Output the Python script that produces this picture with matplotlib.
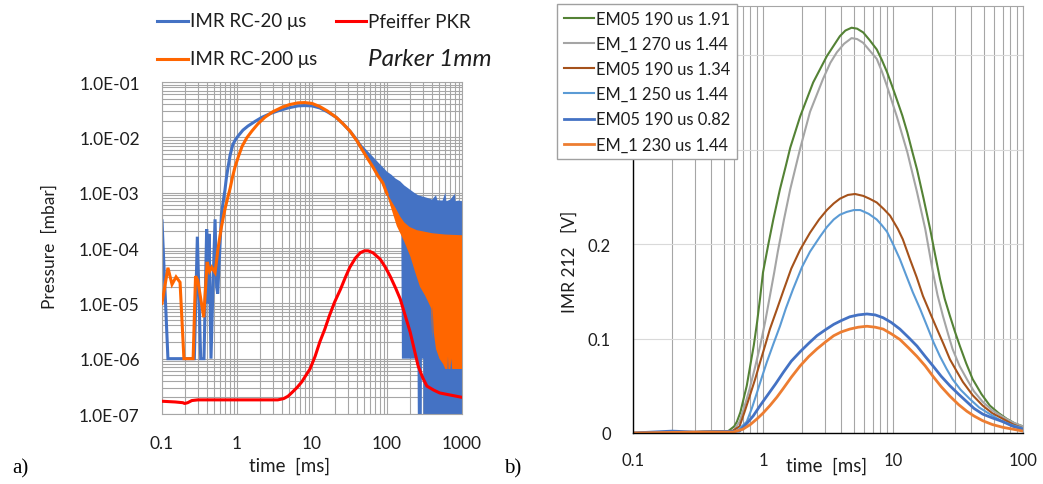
import numpy as np
import matplotlib
matplotlib.use("Agg")
import matplotlib.pyplot as plt
from matplotlib.lines import Line2D
from matplotlib.ticker import LogLocator, FuncFormatter, NullFormatter, FixedLocator

plt.rcParams['font.family'] = ['Lato', 'DejaVu Sans']

# ---- panel a: pressure traces (time in ms, pressure in mbar) ----
imr20_t = [0.1, 0.12, 0.27, 0.296, 0.328, 0.363, 0.394, 0.41, 0.424, 0.45, 0.478, 0.51,
           0.535, 0.553, 0.62, 0.66, 0.69, 0.72, 0.76, 0.81, 0.88, 0.95, 1.03, 1.2, 1.4,
           1.75, 2.15, 2.8, 3.5, 4.8, 6.5, 8, 10, 12.7, 16, 21, 26, 32, 40, 48, 56, 65,
           76, 88, 100]
imr20_p = [3.1e-4, 1e-6, 1e-6, 1.6e-4, 1e-6, 1e-6, 2.2e-4, 1e-5, 1.8e-4, 1e-6, 2e-5, 3.3e-4,
           2e-5, 1.5e-5, 4e-4, 7.5e-4, 1.1e-3, 1.8e-3, 2.9e-3, 4.8e-3, 7.4e-3, 9e-3, 1.05e-2,
           1.35e-2, 1.6e-2, 1.95e-2, 2.3e-2, 2.7e-2, 3e-2, 3.4e-2, 3.7e-2, 3.75e-2, 3.7e-2,
           3.4e-2, 2.9e-2, 2.3e-2, 1.75e-2, 1.3e-2, 8.8e-3, 5.8e-3, 4.2e-3, 3e-3, 2.1e-3,
           1.6e-3, 1.2e-3]

# noisy tail of the 20 us trace: upper / lower envelopes
imr20_hi_t = [40, 50, 60, 70, 80, 90, 100, 115, 130, 150, 170, 200, 230, 260, 300, 350,
              400, 450, 470, 550, 600, 620, 700, 800, 820, 900, 1000]
imr20_hi_p = [9e-3, 6.5e-3, 5e-3, 4e-3, 3.3e-3, 2.8e-3, 2.4e-3, 2.1e-3, 1.8e-3, 1.6e-3,
              1.35e-3, 1.15e-3, 1e-3, 9e-4, 8.5e-4, 8e-4, 7.5e-4, 9e-4, 7.3e-4, 7.2e-4,
              1e-3, 7e-4, 7.5e-4, 9.5e-4, 7e-4, 7.2e-4, 7e-4]
imr20_lo_t = [40, 50, 70, 100, 130, 155, 158, 255, 260, 290, 292, 305, 307, 1000]
imr20_lo_p = [7.5e-3, 5e-3, 2.6e-3, 9e-4, 5e-4, 3e-4, 1e-6, 1e-6, 1e-8, 1e-8, 1e-6, 1e-6,
              1e-8, 1e-8]

imr200_t = [0.1, 0.12, 0.136, 0.154, 0.174, 0.196, 0.26, 0.28, 0.30, 0.36, 0.40, 0.43,
            0.46, 0.51, 0.56, 0.62, 0.69, 0.75, 0.81, 0.87, 0.94, 1.05, 1.17, 1.35, 1.58,
            1.9, 2.35, 3, 4, 5, 6.5, 8, 10, 12.7, 16, 21, 26, 32, 40, 48, 56, 65, 76, 88,
            100]
imr200_p = [1e-5, 4.4e-5, 2.2e-5, 3e-5, 2.4e-5, 1e-6, 1e-6, 3.1e-5, 2.6e-5, 5.6e-6, 5.6e-5,
            3.8e-5, 4.5e-5, 3.6e-5, 1e-4, 2.4e-4, 5e-4, 8e-4, 1.2e-3, 1.9e-3, 2.9e-3, 4.6e-3,
            6.9e-3, 9.8e-3, 1.3e-2, 1.75e-2, 2.3e-2, 2.9e-2, 3.5e-2, 3.9e-2, 4.2e-2, 4.25e-2,
            4.1e-2, 3.6e-2, 3e-2, 2.3e-2, 1.75e-2, 1.3e-2, 8.5e-3, 5.6e-3, 4e-3, 2.9e-3,
            2e-3, 1.5e-3, 9.5e-4]

imr200_hi_t = [100, 115, 128, 150, 170, 200, 250, 300, 400, 600, 1000]
imr200_hi_p = [1e-3, 7e-4, 5.5e-4, 3.7e-4, 2.9e-4, 2.4e-4, 2.1e-4, 2e-4, 1.85e-4, 1.75e-4, 1.7e-4]
imr200_lo_t = [100, 115, 135, 170, 205, 240, 275, 320, 350, 390, 400, 405, 420, 450, 500,
               560, 600, 640, 650, 660, 700, 720, 740, 1000]
imr200_lo_p = [9e-4, 5e-4, 2.5e-4, 1.3e-4, 7e-5, 3.5e-5, 2e-5, 1.4e-5, 1.1e-5, 8e-6, 2.2e-6,
               9e-6, 3e-6, 1.5e-6, 1e-6, 8e-7, 6.5e-7, 6.5e-7, 1.1e-6, 6.5e-7, 6.5e-7, 1e-6,
               6.5e-7, 6.5e-7]

pkr_t = [0.1, 0.15, 0.19, 0.2, 0.22, 0.25, 0.3, 1, 3.5, 4.2, 4.8, 5.5, 6.3, 7.3, 8.3, 9.4,
         11, 12.7, 14.8, 17, 20, 24, 28, 32, 38, 44, 50, 56, 65, 81, 95, 110, 130, 150,
         175, 204, 230, 260, 300, 340, 420, 505, 700, 1000]
pkr_p = [1.7e-7, 1.65e-7, 1.6e-7, 1.55e-7, 1.6e-7, 1.75e-7, 1.8e-7, 1.8e-7, 1.8e-7, 1.9e-7,
         2.1e-7, 2.5e-7, 3e-7, 3.8e-7, 5e-7, 6.5e-7, 1.1e-6, 2e-6, 3.4e-6, 5.9e-6, 1.05e-5,
         1.8e-5, 3e-5, 4.5e-5, 6.6e-5, 8.2e-5, 8.9e-5, 8.9e-5, 8.2e-5, 6.3e-5, 4.5e-5,
         3.1e-5, 1.9e-5, 1.2e-5, 6e-6, 3e-6, 1.5e-6, 7.4e-7, 4.5e-7, 3.2e-7, 2.7e-7, 2.4e-7,
         2.2e-7, 2e-7]

# ---- panel b: IMR 212 signal (time in ms, volts) ----
em_labels = ["EM05 190 us 1.91", "EM_1 270 us 1.44", "EM05 190 us 1.34",
             "EM_1 250 us 1.44", "EM05 190 us 0.82", "EM_1 230 us 1.44"]
em_colors = ['#548235', '#A5A5A5', '#A5521B', '#5B9BD5', '#4472C4', '#ED7D31']

em05_191_t = [0.1, 0.3, 0.54, 0.6, 0.63, 0.67, 0.70, 0.75, 0.79, 0.85, 0.90, 0.95, 1.0,
              1.1, 1.2, 1.35, 1.5, 1.62, 1.93, 2.43, 3.1, 3.9, 4.3, 4.8, 5.3, 5.9, 6.6, 7.5,
              8.2, 9.0, 9.8, 10.7, 11.8, 12.9, 14, 15.3, 17.2, 19.3, 21, 23, 25, 27.4, 30,
              32.7, 36.5, 41, 48, 55.6, 65, 75, 87, 100]
em05_191_v = [0.0, 0.001, 0.002, 0.007, 0.012, 0.022, 0.033, 0.05, 0.068, 0.093, 0.117,
              0.143, 0.170, 0.200, 0.226, 0.258, 0.283, 0.302, 0.335, 0.371, 0.399, 0.420,
              0.426, 0.429, 0.428, 0.424, 0.416, 0.406, 0.395, 0.382, 0.368, 0.353, 0.336,
              0.318, 0.299, 0.279, 0.248, 0.216, 0.19, 0.163, 0.142, 0.124, 0.107, 0.092,
              0.074, 0.057, 0.041, 0.029, 0.021, 0.015, 0.010, 0.007]

em1_270_t = [0.1, 0.3, 0.59, 0.66, 0.72, 0.79, 0.87, 0.95, 1.04, 1.13, 1.22, 1.30, 1.45,
             1.62, 1.93, 2.3, 2.9, 3.3, 3.7, 4.2, 4.8, 5.3, 5.9, 6.6, 7.5, 8.2, 9.0, 10.7,
             12.9, 15.3, 17.7, 20.3, 22, 24.2, 26.5, 28.7, 32.5, 37, 42, 49, 58, 70, 84, 100]
em1_270_v = [0.0, 0.001, 0.002, 0.012, 0.028, 0.047, 0.07, 0.092, 0.118, 0.145, 0.170,
             0.192, 0.226, 0.258, 0.301, 0.340, 0.375, 0.392, 0.403, 0.412, 0.418, 0.417,
             0.413, 0.405, 0.396, 0.383, 0.367, 0.335, 0.297, 0.255, 0.216, 0.170, 0.146,
             0.124, 0.105, 0.089, 0.071, 0.057, 0.044, 0.033, 0.024, 0.017, 0.011, 0.007]

em05_134_t = [0.1, 0.3, 0.58, 0.66, 0.72, 0.79, 0.87, 0.95, 1.04, 1.13, 1.28, 1.43, 1.65,
              1.93, 2.3, 2.7, 3.1, 3.5, 3.9, 4.5, 5.1, 5.9, 6.6, 7.5, 8.5, 9.5, 10.9, 11.9,
              13.5, 15.2, 17, 19.3, 21.8, 24.5, 27.4, 31, 34.5, 41, 49, 58, 70, 84, 100]
em05_134_v = [0.0, 0.001, 0.002, 0.007, 0.022, 0.039, 0.057, 0.075, 0.093, 0.110, 0.131,
              0.150, 0.174, 0.194, 0.212, 0.226, 0.236, 0.243, 0.248, 0.252, 0.253, 0.251,
              0.248, 0.244, 0.237, 0.230, 0.216, 0.205, 0.184, 0.165, 0.145, 0.127, 0.110,
              0.094, 0.078, 0.065, 0.054, 0.040, 0.029, 0.021, 0.015, 0.009, 0.005]

em1_250_t = [0.1, 0.3, 0.63, 0.75, 0.82, 0.9, 0.98, 1.07, 1.2, 1.35, 1.5, 1.7, 2.0, 2.3,
             2.75, 3.1, 3.5, 3.9, 4.4, 5.0, 5.6, 6.5, 7.5, 8.2, 9.0, 10, 11.3, 12.7, 14.2,
             16.2, 18.3, 20.5, 23, 25.8, 28.7, 33, 39, 46, 55.6, 70, 84, 100]
em1_250_v = [0.0, 0.001, 0.002, 0.012, 0.026, 0.043, 0.059, 0.075, 0.094, 0.113, 0.132,
             0.152, 0.176, 0.192, 0.208, 0.218, 0.226, 0.231, 0.234, 0.236, 0.236, 0.232,
             0.226, 0.220, 0.213, 0.200, 0.184, 0.166, 0.149, 0.131, 0.113, 0.096, 0.081,
             0.068, 0.057, 0.046, 0.036, 0.027, 0.020, 0.012, 0.008, 0.005]

em05_082_t = [0.1, 0.2, 0.3, 0.66, 0.75, 0.84, 0.95, 1.07, 1.25, 1.43, 1.65, 1.93, 2.25,
              2.6, 3.0, 3.5, 4.0, 4.65, 5.4, 6.3, 7.3, 8.4, 9.7, 11.3, 13.2, 15.3, 17.7,
              20.3, 23.5, 27.4, 32, 37, 42, 49, 58, 70, 84, 100]
em05_082_v = [0.0, 0.002, 0.001, 0.002, 0.010, 0.018, 0.029, 0.039, 0.052, 0.064, 0.076,
              0.086, 0.095, 0.103, 0.109, 0.115, 0.119, 0.123, 0.125, 0.126, 0.125, 0.122,
              0.117, 0.110, 0.101, 0.092, 0.081, 0.071, 0.060, 0.050, 0.041, 0.033, 0.026,
              0.020, 0.016, 0.012, 0.007, 0.004]

em1_230_t = [0.1, 0.3, 0.59, 0.70, 0.8, 0.9, 1.0, 1.13, 1.28, 1.43, 1.65, 1.93, 2.25, 2.6,
             3.0, 3.5, 4.0, 4.65, 5.4, 6.3, 7.3, 8.4, 9.7, 11.3, 13.2, 15.3, 17.7, 20.3,
             23.5, 27.4, 32, 37, 42, 49, 58, 70, 84, 100]
em1_230_v = [0.0, 0.001, 0.001, 0.004, 0.009, 0.015, 0.021, 0.029, 0.038, 0.047, 0.059,
             0.071, 0.081, 0.089, 0.096, 0.103, 0.107, 0.110, 0.112, 0.113, 0.112, 0.110,
             0.105, 0.099, 0.090, 0.081, 0.071, 0.060, 0.049, 0.039, 0.030, 0.023, 0.018,
             0.013, 0.009, 0.006, 0.004, 0.002]

W, H = 1043, 485
fig = plt.figure(figsize=(W / 100, H / 100), dpi=100)


def fx(x):
    return x / W


def fy(y):
    return 1 - y / H


BLUE, ORANGE, RED = '#4472C4', '#FF6600', '#FF0000'
GRID = '#a6a6a6'
TXT = '#1e1e1e'

# ---------------- panel a ----------------
axA = fig.add_axes([fx(162), fy(415), 300 / W, 332 / H])
axA.set_xscale('log')
axA.set_yscale('log')

axA.fill(np.r_[imr20_hi_t, imr20_lo_t[::-1]], np.r_[imr20_hi_p, imr20_lo_p[::-1]],
         color=BLUE, lw=0, zorder=2)
axA.plot(imr20_t, imr20_p, color=BLUE, lw=2.2, zorder=2, solid_joinstyle='miter')
axA.fill(np.r_[imr200_hi_t, imr200_lo_t[::-1]], np.r_[imr200_hi_p, imr200_lo_p[::-1]],
         color=ORANGE, lw=0, zorder=3)
axA.plot(imr200_t, imr200_p, color=ORANGE, lw=2.2, zorder=3, solid_joinstyle='miter')
axA.plot(pkr_t, pkr_p, color=RED, lw=2.2, zorder=4)

axA.set_xlim(0.1, 1000)
axA.set_ylim(1e-7, 1e-1)
axA.xaxis.set_major_locator(LogLocator(base=10, numticks=20))
axA.xaxis.set_minor_locator(LogLocator(base=10, subs=np.arange(2, 10), numticks=60))
axA.yaxis.set_major_locator(LogLocator(base=10, numticks=20))
axA.yaxis.set_minor_locator(LogLocator(base=10, subs=np.arange(2, 10), numticks=60))
axA.xaxis.set_major_formatter(FuncFormatter(lambda v, _: f"{v:g}"))
axA.yaxis.set_major_formatter(FuncFormatter(lambda v, _: f"{v:.1E}"))
axA.xaxis.set_minor_formatter(NullFormatter())
axA.yaxis.set_minor_formatter(NullFormatter())
axA.grid(True, which='both', color=GRID, lw=0.8)
axA.set_axisbelow(True)
axA.tick_params(which='both', length=0, labelsize=12.5, labelcolor=TXT)
axA.tick_params(axis='y', pad=16)
axA.tick_params(axis='x', pad=15)
for s in axA.spines.values():
    s.set_color(GRID)
    s.set_linewidth(0.8)

fig.text(fx(50), fy(247), "Pressure  [mbar]", rotation=90, ha='center', va='center',
         fontsize=12.5, color=TXT)
fig.text(fx(290), fy(466), "time  [ms]", ha='center', va='center', fontsize=13.5, color=TXT)

# legend above panel a
for (x0, x1, y, c) in [(157, 188, 22, BLUE), (336, 366, 22, RED), (157, 188, 60, ORANGE)]:
    fig.add_artist(Line2D([fx(x0), fx(x1)], [fy(y), fy(y)], color=c, lw=2.2))
fig.text(fx(190), fy(22), "IMR RC-20 \u03bcs", ha='left', va='center', fontsize=13.5, color=TXT)
fig.text(fx(368), fy(22), "Pfeiffer PKR", ha='left', va='center', fontsize=13.5, color=TXT)
fig.text(fx(190), fy(60), "IMR RC-200 \u03bcs", ha='left', va='center', fontsize=13.5, color=TXT)
fig.text(fx(368), fy(60), "Parker 1mm", ha='left', va='center', fontsize=17.5, style='italic',
         color=TXT)

# ---------------- panel b ----------------
axB = fig.add_axes([fx(633), fy(434), 390 / W, 427 / H])
axB.set_xscale('log')
series_b = [(em05_191_t, em05_191_v), (em1_270_t, em1_270_v), (em05_134_t, em05_134_v),
            (em1_250_t, em1_250_v), (em05_082_t, em05_082_v), (em1_230_t, em1_230_v)]
widths_b = [1.5, 1.5, 1.5, 1.5, 2.0, 2.0]
for (t, v), lab, c, lw in zip(series_b, em_labels, em_colors, widths_b):
    axB.plot(t, v, color=c, lw=lw, label=lab)

axB.set_xlim(0.1, 100)
axB.set_ylim(0, 0.452)
axB.xaxis.set_major_locator(LogLocator(base=10, numticks=20))
axB.xaxis.set_minor_locator(LogLocator(base=10, subs=np.arange(2, 10), numticks=60))
axB.xaxis.set_major_formatter(FuncFormatter(lambda v, _: f"{v:g}"))
axB.xaxis.set_minor_formatter(NullFormatter())
# 0.3 and 0.4 sit behind the legend box, so only their grid lines show
axB.yaxis.set_major_locator(FixedLocator([0, 0.1, 0.2, 0.3, 0.4]))
axB.yaxis.set_major_formatter(FuncFormatter(lambda v, _: f"{v:g}" if v < 0.25 else ""))
axB.grid(True, axis='x', which='both', color=GRID, lw=0.8)
axB.grid(True, axis='y', which='major', color='#d9d9d9', lw=0.8)
axB.set_axisbelow(True)
axB.tick_params(which='both', length=0, labelsize=12, labelcolor=TXT)
axB.tick_params(axis='y', pad=16)
axB.tick_params(axis='x', pad=14)
axB.spines['left'].set_color('black')
axB.spines['bottom'].set_color('black')
axB.spines['left'].set_linewidth(1.0)
axB.spines['bottom'].set_linewidth(1.0)
axB.spines['top'].set_color(GRID)
axB.spines['right'].set_color(GRID)

leg = axB.legend(loc='upper left', bbox_to_anchor=(fx(557), fy(5)),
                 bbox_transform=fig.transFigure, fancybox=False, edgecolor='#a0a0a0',
                 framealpha=1, borderaxespad=0, fontsize=11.9, handlelength=1.8,
                 handletextpad=0.15, labelspacing=0.55, borderpad=0.42)
leg.get_frame().set_linewidth(1.0)
for txt in leg.get_texts():
    txt.set_color(TXT)

fig.text(fx(570), fy(262), "IMR 212   [V]", rotation=90, ha='center', va='center',
         fontsize=12.5, color=TXT)
fig.text(fx(827), fy(466), "time  [ms]", ha='center', va='center', fontsize=13.5, color=TXT)

# panel letters
fig.text(fx(20), fy(469), "a)", ha='center', va='center', fontsize=15,
         family='Liberation Serif', color='black')
fig.text(fx(513), fy(469), "b)", ha='center', va='center', fontsize=15,
         family='Liberation Serif', color='black')

fig.savefig("out.png", dpi=100)
